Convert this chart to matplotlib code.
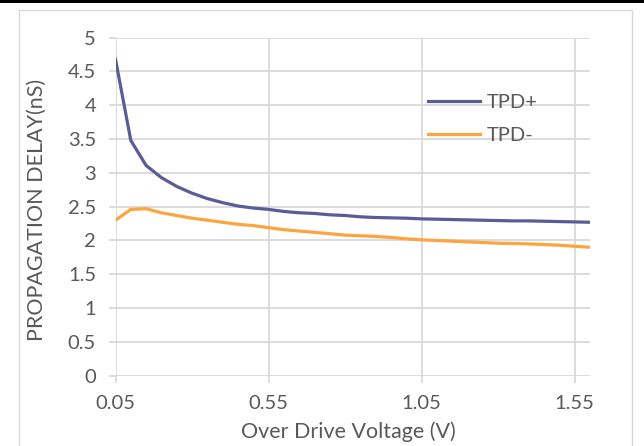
import matplotlib
matplotlib.use('Agg')
import matplotlib.pyplot as plt
from matplotlib.patches import Rectangle

# over drive voltage (V)
vod = [0.05, 0.10, 0.15, 0.20, 0.25, 0.30, 0.35, 0.40, 0.45, 0.50, 0.55, 0.60, 0.65, 0.70, 0.75, 0.80,
       0.85, 0.90, 0.95, 1.00, 1.05, 1.10, 1.15, 1.20, 1.25, 1.30, 1.35, 1.40, 1.45, 1.50, 1.55, 1.60]
tpd_plus = [4.68, 3.48, 3.11, 2.93, 2.80, 2.70, 2.62, 2.56, 2.51, 2.48, 2.46, 2.43, 2.41, 2.40, 2.38, 2.37,
            2.35, 2.34, 2.335, 2.33, 2.32, 2.315, 2.31, 2.305, 2.30, 2.295, 2.29, 2.29, 2.285, 2.28, 2.275, 2.27]
tpd_minus = [2.30, 2.46, 2.47, 2.41, 2.37, 2.33, 2.30, 2.27, 2.24, 2.22, 2.19, 2.16, 2.14, 2.12, 2.10, 2.08,
             2.07, 2.06, 2.045, 2.025, 2.01, 2.00, 1.99, 1.98, 1.97, 1.96, 1.955, 1.95, 1.94, 1.93, 1.915, 1.90]
xticks = [0.05, 0.55, 1.05, 1.55]
yticks = [0, 0.5, 1, 1.5, 2, 2.5, 3, 3.5, 4, 4.5, 5]

plt.rcParams['font.family'] = ['Lato', 'DejaVu Sans']
txt = '#595959'
grid = '#d9d9d9'

fig = plt.figure(figsize=(6.44, 4.46), dpi=100)
# black strip on top and chart frame
fig.patches.append(Rectangle((0, 1 - 3 / 446), 1, 3 / 446, transform=fig.transFigure,
                             facecolor='black', edgecolor='none'))
fig.patches.append(Rectangle((19 / 644, -0.05), 613 / 644, 1.05 - 10 / 446, transform=fig.transFigure,
                             facecolor='none', edgecolor=grid, linewidth=1))

ax = fig.add_axes([115.5 / 644, 1 - 375.7 / 446, (590 - 115.5) / 644, (375.7 - 37.7) / 446])
ax.plot(vod, tpd_plus, color='#5b5b98', linewidth=2.3, label='TPD+', zorder=3)
ax.plot(vod, tpd_minus, color='#fca440', linewidth=2.3, label='TPD-', zorder=3)

ax.set_xlim(0.05, 1.6)
ax.set_ylim(0, 5)
ax.set_xticks(xticks)
ax.set_xticklabels(['0.05', '0.55', '1.05', '1.55'])
ax.set_yticks(yticks)
ax.set_yticklabels(['0', '0.5', '1', '1.5', '2', '2.5', '3', '3.5', '4', '4.5', '5'])
ax.grid(True, color=grid, linewidth=1.3)
ax.set_axisbelow(True)
for s in ax.spines.values():
    s.set_visible(False)
ax.tick_params(axis='both', length=5, width=1.3, color=grid, labelsize=14.5, labelcolor=txt, pad=9)

ax.set_xlabel('Over Drive Voltage (V)', fontsize=15.5, color=txt, va='center')
ax.set_ylabel('PROPAGATION DELAY(nS)', fontsize=15.5, color=txt, va='center')
ax.xaxis.set_label_coords(0.49, -0.167)
ax.yaxis.set_label_coords(-0.165, 0.49)

ax.legend(loc='upper left', bbox_to_anchor=(0.6586, 0.835), frameon=False, fontsize=14.5,
          labelcolor=txt, handlelength=2.6, handletextpad=0.3, labelspacing=0.8,
          borderpad=0, borderaxespad=0)

plt.savefig('out.png', dpi=100)
